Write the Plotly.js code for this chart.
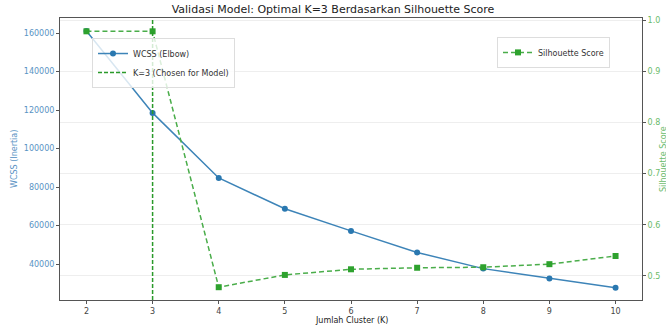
<!DOCTYPE html>
<html><head><meta charset="utf-8">
<script src="https://cdn.plot.ly/plotly-3.0.1.min.js"></script>
<style>html,body{margin:0;padding:0;background:#fff}#c{width:666px;height:327px}</style>
</head><body><div id="c"></div>
<script>
const kValues = [2, 3, 4, 5, 6, 7, 8, 9, 10];
const wcss = [161000, 118500, 84700, 68700, 57200, 46000, 37600, 32500, 27700];
const silhouette = [0.978, 0.978, 0.478, 0.502, 0.513, 0.516, 0.517, 0.523, 0.539];
const chosenK = 3;
const xTicks = [2, 3, 4, 5, 6, 7, 8, 9, 10];

const font = 'DejaVu Sans, sans-serif';
const blue = '#2a78b0', green = '#2ea22e';

const traces = [
  {x: kValues, y: wcss, type: 'scatter', mode: 'lines+markers', name: 'WCSS (Elbow)',
   line: {color: '#3d84b8', width: 1.5}, marker: {symbol: 'circle', size: 6, color: blue},
   xaxis: 'x', yaxis: 'y', legend: 'legend'},
  {x: kValues, y: silhouette, type: 'scatter', mode: 'lines+markers', name: 'Silhouette Score',
   line: {color: '#4aad4a', width: 1.5, dash: '5px,3px'}, marker: {symbol: 'square', size: 6, color: green},
   xaxis: 'x', yaxis: 'y2', legend: 'legend2'}
];

const layout = {
  width: 666, height: 327,
  margin: {l: 60, r: 24, t: 18, b: 27},
  paper_bgcolor: '#fff', plot_bgcolor: '#fff',
  font: {family: font, size: 8, color: '#333'},
  title: {text: 'Validasi Model: Optimal K=3 Berdasarkan Silhouette Score',
          font: {family: font, size: 11, color: '#222'},
          x: 0.5, xanchor: 'center', y: 1 - 9/327, yanchor: 'middle', yref: 'container'},
  xaxis: {range: [1.6, 10.4], tickvals: xTicks, ticktext: xTicks.map(String),
          showgrid: false, zeroline: false, showline: true, linecolor: '#555', linewidth: 1,
          mirror: true, ticks: 'outside', ticklen: 3, tickcolor: '#555',
          tickfont: {size: 8, color: '#444'}, automargin: false},
  yaxis: {range: [21300, 167800], dtick: 20000, tick0: 0, tickformat: 'd',
          showgrid: false, zeroline: false, showline: true, linecolor: '#555', linewidth: 1,
          ticks: 'outside', ticklen: 3, tickcolor: '#555',
          tickfont: {size: 8, color: '#5a93c4'}, automargin: false},
  yaxis2: {overlaying: 'y', side: 'right', range: [0.453, 1.004], dtick: 0.1, tick0: 0,
           tickformat: '.1f', showgrid: true, gridcolor: '#eeeeee', gridwidth: 1,
           zeroline: false, showline: true, linecolor: '#555', linewidth: 1,
           ticks: 'outside', ticklen: 3, tickcolor: '#555',
           tickfont: {size: 8, color: '#6bbb6b'}, automargin: false},
  shapes: [{type: 'line', xref: 'x', yref: 'paper', x0: chosenK, x1: chosenK, y0: 0, y1: 1,
            line: {color: '#2a9a2a', width: 1.5, dash: '4px,2px'},
            showlegend: true, name: 'K=3 (Chosen for Model)', legend: 'legend'}],
  legend: {x: 0.055, y: 0.929, xanchor: 'left', yanchor: 'top',
           bgcolor: 'rgba(255,255,255,0.8)', bordercolor: '#dddddd', borderwidth: 1,
           font: {family: font, size: 8, color: '#333'}, tracegroupgap: 0, itemwidth: 30},
  legend2: {x: (610 - 60) / 582, y: 0.933, xanchor: 'right', yanchor: 'top',
            bgcolor: 'rgba(255,255,255,0.8)', bordercolor: '#dddddd', borderwidth: 1,
            font: {family: font, size: 8, color: '#333'}, itemwidth: 30},
  annotations: [
    {text: 'Jumlah Cluster (K)', xref: 'paper', yref: 'paper', x: 0.5, y: -20/282,
     xanchor: 'center', yanchor: 'middle', showarrow: false, font: {size: 8, color: '#222'}},
    {text: 'WCSS (Inertia)', xref: 'paper', yref: 'paper', x: -46/582, y: 0.5, textangle: -90,
     xanchor: 'center', yanchor: 'middle', showarrow: false, font: {size: 8, color: '#5a93c4'}},
    {text: 'Silhouette Score', xref: 'paper', yref: 'paper', x: 1 + 21/582, y: 0.5, textangle: -90,
     xanchor: 'center', yanchor: 'middle', showarrow: false, font: {size: 8, color: '#6bbb6b'}}
  ],
  showlegend: true
};

Plotly.newPlot('c', traces, layout, {displayModeBar: false, staticPlot: true});
</script></body></html>
